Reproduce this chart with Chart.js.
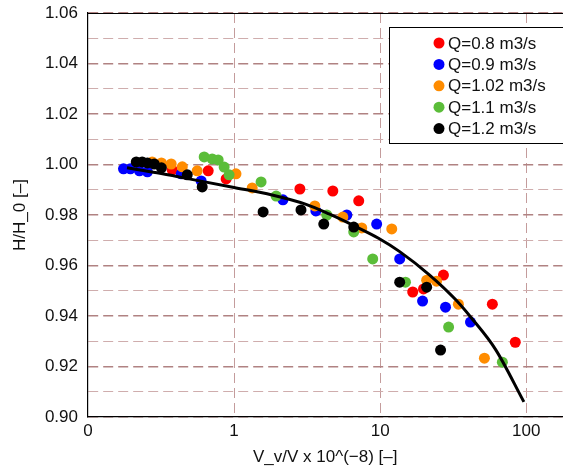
<!DOCTYPE html>
<html>
<head>
    <title>H/H_0 vs V_v/V</title>
    <style>
        body {
            margin: 0;
            background-color: #fff;
            overflow: hidden;
        }
    </style>
    <script src="https://cdn.jsdelivr.net/npm/chart.js"></script>
</head>
<body>
    <!-- the plot frame runs past the right edge of the page -->
    <canvas id="chart" width="568" height="468"></canvas>
    <script>
        // measured points: x = V_v/V x 10^8, y = H/H_0
        var seriesLabels = ['Q=0.8 m3/s', 'Q=0.9 m3/s', 'Q=1.02 m3/s', 'Q=1.1 m3/s', 'Q=1.2 m3/s'];
        var seriesColors = ['#ff0000', '#0000ff', '#ff8c00', '#5bbd39', '#000000'];

        var q08X = [0.377, 0.665, 0.882, 2.82, 4.74, 7.13, 16.7, 19.8, 27.1, 58.6, 84.1];
        var q08Y = [0.9979, 0.9975, 0.9943, 0.9903, 0.9895, 0.9856, 0.9495, 0.9507, 0.9562, 0.9447, 0.9296];

        var q09X = [0.175, 0.195, 0.225, 0.255, 0.435, 0.595, 2.16, 3.63, 5.91, 9.46, 13.6, 19.5, 28.0, 41.5];
        var q09Y = [0.9983, 0.9983, 0.9975, 0.9971, 0.9963, 0.9935, 0.9860, 0.9816, 0.9800, 0.9764, 0.9626, 0.9459, 0.9435, 0.9376];

        var q102X = [0.275, 0.318, 0.371, 0.442, 0.559, 1.03, 1.33, 3.57, 5.55, 7.48, 12.0, 20.8, 24.3, 34.3, 51.7];
        var q102Y = [1.0010, 1.0006, 1.0002, 0.9991, 0.9975, 0.9963, 0.9907, 0.9836, 0.9792, 0.9749, 0.9745, 0.9542, 0.9538, 0.9447, 0.9233];

        var q11X = [0.624, 0.708, 0.778, 0.855, 0.924, 1.53, 1.94, 4.31, 6.59, 8.89, 14.9, 29.4, 68.6];
        var q11Y = [1.0030, 1.0022, 1.0018, 0.9990, 0.9959, 0.9931, 0.9875, 0.9800, 0.9733, 0.9626, 0.9534, 0.9356, 0.9217];

        var q12X = [0.214, 0.235, 0.255, 0.284, 0.318, 0.478, 0.605, 1.58, 2.87, 4.11, 6.59, 13.6, 20.8, 25.9];
        var q12Y = [1.0010, 1.0010, 1.0006, 1.0002, 0.9987, 0.9959, 0.9911, 0.9812, 0.9820, 0.9764, 0.9752, 0.9534, 0.9514, 0.9265];

        // fitted trend curve
        var fitX = [0.185, 0.297, 0.492, 1, 1.82, 3.11, 4.47, 6.80, 9.81, 13.6, 21.6, 32.8, 42.0, 61.7, 96.3];
        var fitY = [0.9987, 0.9967, 0.9943, 0.9909, 0.9879, 0.9842, 0.9804, 0.9754, 0.9707, 0.9655, 0.9564, 0.9465, 0.9393, 0.9267, 0.9060];

        var xTicks = [0.1, 1, 10, 100];

        function toPoints(xs, ys) {
            return xs.map(function(x, i) { return { x: x, y: ys[i] }; });
        }

        var seriesX = [q08X, q09X, q102X, q11X, q12X];
        var seriesY = [q08Y, q09Y, q102Y, q11Y, q12Y];

        var datasets = seriesLabels.map(function(label, i) {
            return {
                label: label,
                data: toPoints(seriesX[i], seriesY[i]),
                backgroundColor: seriesColors[i],
                borderColor: seriesColors[i],
                pointRadius: 5.5,
                pointBorderWidth: 0,
                order: 5 - i
            };
        });

        datasets.push({
            label: 'fit',
            data: toPoints(fitX, fitY),
            showLine: true,
            borderColor: '#000',
            borderWidth: 3,
            pointRadius: 0,
            cubicInterpolationMode: 'monotone',
            order: 0
        });

        var FONT = { family: "'Liberation Sans', Arial, sans-serif", size: 17 };

        // top frame line and the boxed legend inside the plot
        var framePlugin = {
            id: 'frame',
            afterDraw: function(chart) {
                var ctx = chart.ctx;
                var area = chart.chartArea;
                ctx.save();
                ctx.strokeStyle = '#000';
                ctx.lineWidth = 1.2;
                ctx.beginPath();
                ctx.moveTo(area.left, area.top + 0.5);
                ctx.lineTo(chart.width, area.top + 0.5);
                ctx.stroke();

                var bx = 389.5, by = 27.5, bh = 116;
                ctx.fillStyle = '#fff';
                ctx.fillRect(bx, by, chart.width - bx + 5, bh);
                ctx.lineWidth = 1;
                ctx.strokeRect(bx, by, chart.width - bx + 5, bh);

                ctx.font = FONT.size + 'px ' + FONT.family;
                ctx.textBaseline = 'middle';
                ctx.textAlign = 'left';
                for (var i = 0; i < seriesLabels.length; i++) {
                    var yy = 43 + i * 21.4;
                    ctx.fillStyle = seriesColors[i];
                    ctx.beginPath();
                    ctx.arc(439, yy, 5.5, 0, Math.PI * 2);
                    ctx.fill();
                    ctx.fillStyle = '#111';
                    ctx.fillText(seriesLabels[i], 448, yy + 1);
                }
                ctx.restore();
            }
        };

        new Chart(document.getElementById('chart'), {
            type: 'scatter',
            data: { datasets: datasets },
            plugins: [framePlugin],
            options: {
                responsive: false,
                animation: false,
                layout: { padding: { top: 13, right: 0, bottom: 0, left: 0 } },
                plugins: {
                    legend: { display: false },
                    tooltip: { enabled: false }
                },
                scales: {
                    x: {
                        type: 'logarithmic',
                        min: 0.1,
                        max: 177,
                        afterBuildTicks: function(scale) {
                            scale.ticks = xTicks.map(function(v) { return { value: v }; });
                        },
                        afterFit: function(scale) {
                            scale.height = 51;
                            scale.paddingLeft = 0;
                            scale.paddingRight = 0;
                        },
                        ticks: {
                            color: '#111',
                            font: FONT,
                            padding: 4,
                            autoSkip: false,
                            maxRotation: 0,
                            callback: function(v) { return v === 0.1 ? '0' : String(v); }
                        },
                        grid: {
                            drawTicks: false,
                            lineWidth: 1,
                            color: function(c) {
                                return c.tick && c.tick.value === 0.1 ? 'rgba(0,0,0,0)' : '#c49c9c';
                            }
                        },
                        border: { color: '#000', width: 1.2, dash: [10, 5] },
                        title: {
                            display: true,
                            text: 'V_v/V x 10^(\u22128) [\u2013]',
                            color: '#111',
                            font: FONT,
                            padding: { top: 0, bottom: 0 }
                        }
                    },
                    y: {
                        min: 0.9,
                        max: 1.06,
                        afterFit: function(scale) {
                            scale.width = 88;
                            scale.paddingTop = 0;
                            scale.paddingBottom = 0;
                        },
                        ticks: {
                            stepSize: 0.01,
                            autoSkip: false,
                            color: '#111',
                            font: FONT,
                            padding: 10,
                            callback: function(v) {
                                return Math.round(v * 100) % 2 === 0 ? v.toFixed(2) : '';
                            }
                        },
                        grid: {
                            drawTicks: false,
                            color: function(c) {
                                if (!c.tick) return '#c49c9c';
                                return Math.round(c.tick.value * 100) % 2 === 0 ? '#b08282' : '#cfadad';
                            },
                            lineWidth: function(c) {
                                if (!c.tick) return 1;
                                return Math.round(c.tick.value * 100) % 2 === 0 ? 1.6 : 1;
                            }
                        },
                        border: { color: '#000', width: 1.2, dash: [10, 5] },
                        title: {
                            display: true,
                            text: 'H/H_0 [\u2013]',
                            color: '#111',
                            font: FONT,
                            padding: { top: 10, bottom: 0 }
                        }
                    }
                }
            }
        });
    </script>
</body>
</html>
